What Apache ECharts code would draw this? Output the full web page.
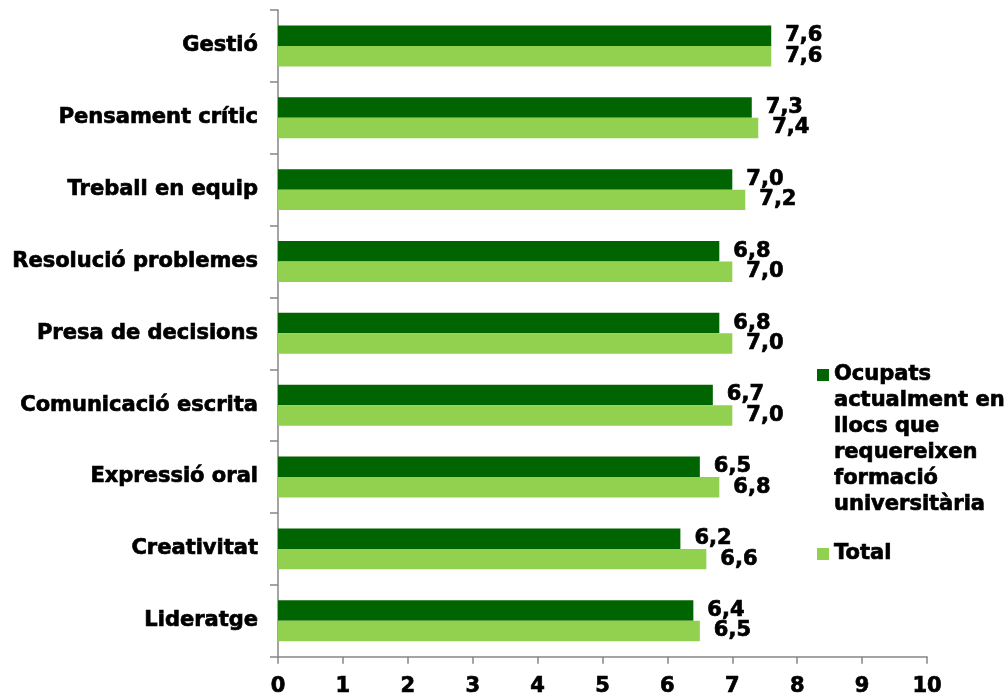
<!DOCTYPE html>
<html>
<head>
<meta charset="utf-8">
<script src="https://cdn.jsdelivr.net/npm/echarts@6/dist/echarts.min.js"></script>
<style>
  html, body { margin: 0; padding: 0; background: #ffffff; }
  #chart { width: 1007px; height: 697px; }
</style>
</head>
<body>
<div id="chart"></div>
<script>
// Competències: valoració mitjana (0-10)
const categories = [
  'Gestió',
  'Pensament crític',
  'Treball en equip',
  'Resolució problemes',
  'Presa de decisions',
  'Comunicació escrita',
  'Expressió oral',
  'Creativitat',
  'Lideratge'
];
const seriesNames = [
  'Ocupats actualment en llocs que requereixen formació universitària',
  'Total'
];
const ocupats = [7.6, 7.3, 7.0, 6.8, 6.8, 6.7, 6.5, 6.2, 6.4];
const total   = [7.6, 7.4, 7.2, 7.0, 7.0, 7.0, 6.8, 6.6, 6.5];
const xTicks = [0, 1, 2, 3, 4, 5, 6, 7, 8, 9, 10];

const FONT = 'DejaVu Sans, Verdana, sans-serif';
const AXIS_GRAY = '#868686';

// heavy bold text: bold face plus a thin outline in the same colour
const heavyText = {
  color: '#000000',
  fontFamily: FONT,
  fontWeight: 'bold',
  fontSize: 21,
  textBorderColor: '#000000',
  textBorderWidth: 0.7
};

const chart = echarts.init(document.getElementById('chart'), null, { renderer: 'canvas' });

const valueLabel = Object.assign({
  show: true,
  position: 'right',
  distance: 14,
  formatter: p => p.value.toFixed(1).replace('.', ',')
}, heavyText);

const legendText = Object.assign({ lineHeight: 26 }, heavyText);

// the long legend entry: leading blank lines keep its first line level with the marker
const legendLines = ['Ocupats', 'actualment en', 'llocs que', 'requereixen', 'formació', 'universitària'];

chart.setOption({
  animation: false,
  backgroundColor: '#ffffff',
  grid: { left: 278, right: 80, top: 10, bottom: 34, containLabel: false },
  legend: [
    {
      data: [seriesNames[0]],
      orient: 'vertical',
      left: 817,
      top: 232,
      padding: 0,
      itemWidth: 12,
      itemHeight: 12,
      selectedMode: false,
      icon: 'rect',
      formatter: () => '\n'.repeat(legendLines.length - 1) + legendLines.join('\n'),
      textStyle: legendText
    },
    {
      data: [seriesNames[1]],
      orient: 'vertical',
      left: 817,
      top: 541,
      padding: 0,
      itemWidth: 12,
      itemHeight: 12,
      selectedMode: false,
      icon: 'rect',
      textStyle: legendText
    }
  ],
  xAxis: {
    type: 'value',
    min: xTicks[0],
    max: xTicks[xTicks.length - 1],
    interval: 1,
    axisLine: { show: true, lineStyle: { color: AXIS_GRAY, width: 1.5 } },
    axisTick: { show: true, length: 7, lineStyle: { color: AXIS_GRAY, width: 1.5 } },
    splitLine: { show: false },
    axisLabel: Object.assign({ margin: 19 }, heavyText)
  },
  yAxis: {
    type: 'category',
    data: categories,
    inverse: true,
    axisLine: { show: true, lineStyle: { color: AXIS_GRAY, width: 1.5 } },
    axisTick: { show: true, length: 8, lineStyle: { color: AXIS_GRAY, width: 1.5 } },
    axisLabel: Object.assign({ margin: 20 }, heavyText)
  },
  series: [
    {
      name: seriesNames[0],
      type: 'bar',
      data: ocupats,
      barGap: '0%',
      barCategoryGap: '43%',
      itemStyle: { color: '#006400' },
      label: valueLabel
    },
    {
      name: seriesNames[1],
      type: 'bar',
      data: total,
      barGap: '0%',
      barCategoryGap: '43%',
      itemStyle: { color: '#92D050' },
      label: valueLabel
    }
  ]
});
</script>
</body>
</html>
